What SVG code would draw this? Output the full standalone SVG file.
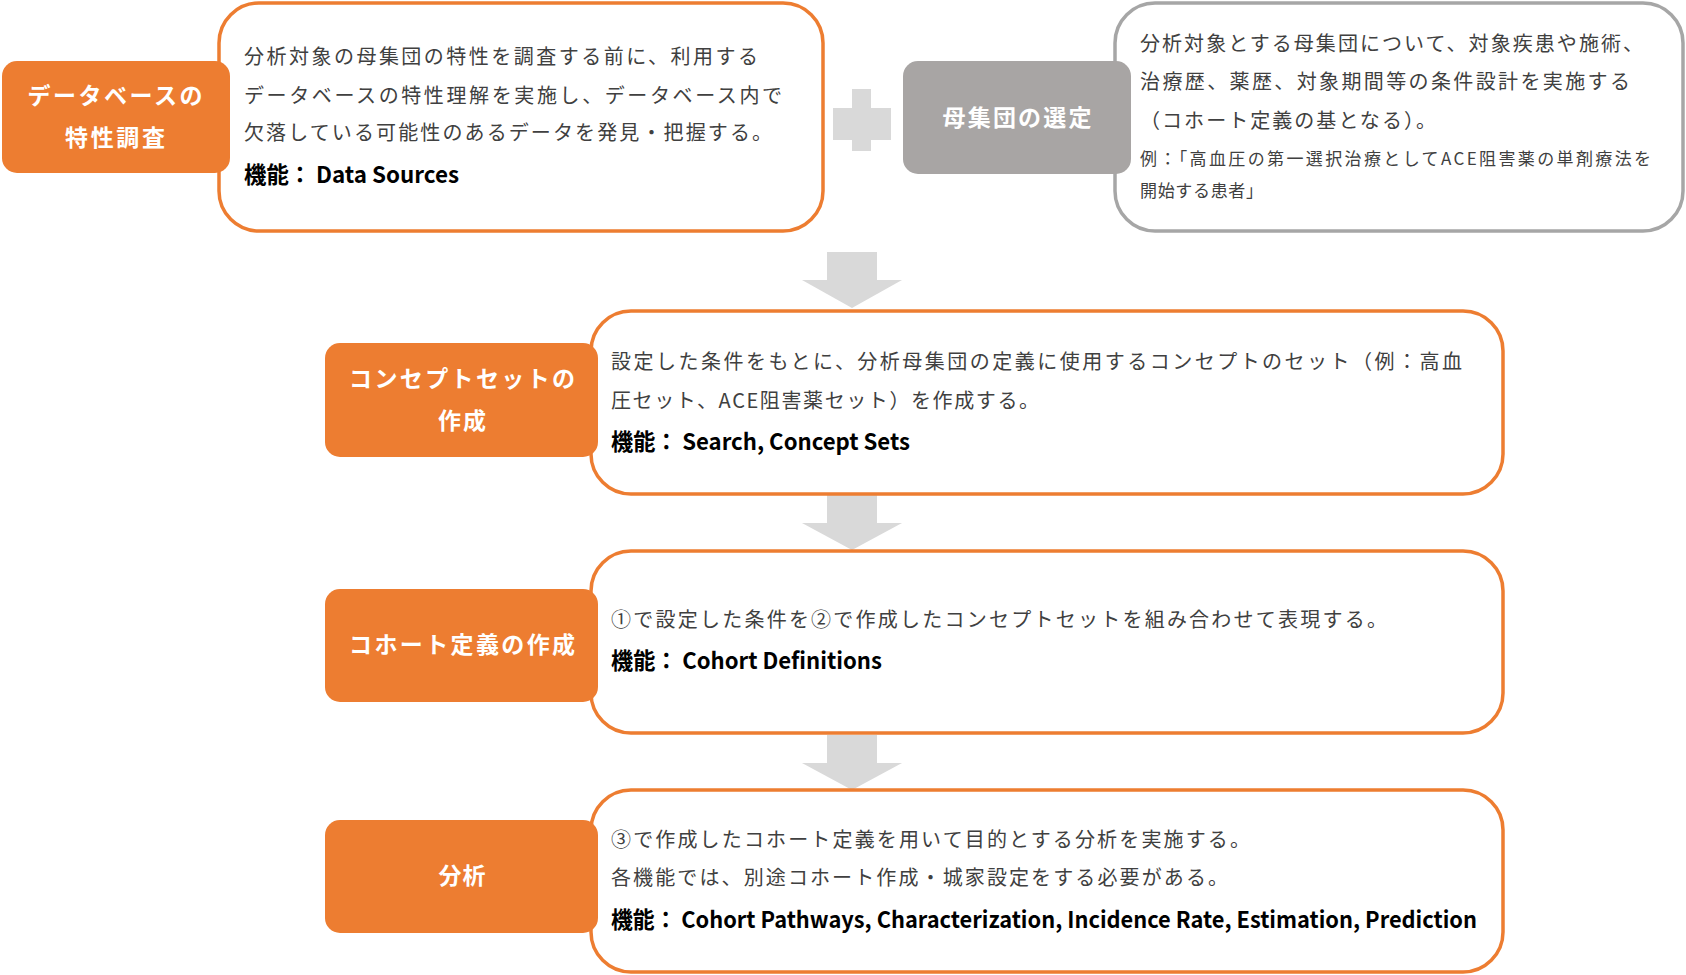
<svg xmlns="http://www.w3.org/2000/svg" width="1686" height="975" viewBox="0 0 1686 975">
<style>
.box{fill:#fff;stroke:#ED7D31;stroke-width:3.5}
.gbox{fill:#fff;stroke:#A6A6A6;stroke-width:3.5}
.lab{fill:#ED7D31}
.glab{fill:#A8A5A4}
.lt{font-family:"Noto Sans CJK JP","Noto Sans",sans-serif;font-weight:bold;font-size:23px;fill:#fff;text-anchor:middle}
.bt{font-family:"Noto Sans CJK JP","Noto Sans",sans-serif;font-size:20px;fill:#404040}
.st{font-family:"Noto Sans CJK JP","Noto Sans",sans-serif;font-size:17px;fill:#404040}
.ft{font-family:"Noto Sans CJK JP","Noto Sans",sans-serif;font-weight:bold;font-size:23px;fill:#000}
.arr{fill:#D9D9D9}
</style>
<rect width="1686" height="975" fill="#fff"/>
<g id="connectors">
<polygon class="arr" points="827,252 877,252 877,280 902,280 852,308 802,280 827,280"/>
<polygon class="arr" points="827,495 877,495 877,523 902,523 852,550 802,523 827,523"/>
<polygon class="arr" points="827,735 877,735 877,763 902,763 852,790 802,763 827,763"/>
</g>
<g id="plus">
<polygon class="arr" points="852,89 871,89 871,108 891,108 891,140 871,140 871,151 852,151 852,140 833,140 833,108 852,108"/>
</g>
<g id="node-db">
<rect class="box" x="219" y="3" width="604" height="228" rx="40"/>
<rect class="lab" x="2" y="61" width="228" height="112" rx="15"/>
<text class="lt" x="115" y="104" textLength="175" lengthAdjust="spacing">データベースの</text>
<text class="lt" x="115" y="146" textLength="100" lengthAdjust="spacing">特性調査</text>
<text class="bt" x="244" y="64" textLength="514" lengthAdjust="spacing">分析対象の母集団の特性を調査する前に、利用する</text>
<text class="bt" x="244" y="103" textLength="538" lengthAdjust="spacing">データベースの特性理解を実施し、データベース内で</text>
<text class="bt" x="244" y="140" textLength="528" lengthAdjust="spacing">欠落している可能性のあるデータを発見・把握する。</text>
<text class="ft" x="244" y="183" textLength="215" lengthAdjust="spacingAndGlyphs">機能：<tspan dx="5">Data Sources</tspan></text>
</g>
<g id="node-population">
<rect class="gbox" x="1115" y="3" width="568" height="228" rx="40"/>
<rect class="glab" x="903" y="61" width="228" height="113" rx="15"/>
<text class="lt" x="1017" y="126" textLength="149" lengthAdjust="spacing">母集団の選定</text>
<text class="bt" x="1140" y="51" textLength="503" lengthAdjust="spacing">分析対象とする母集団について、対象疾患や施術、</text>
<text class="bt" x="1140" y="89" textLength="490" lengthAdjust="spacing">治療歴、薬歴、対象期間等の条件設計を実施する</text>
<text class="bt" x="1140" y="128" textLength="296" lengthAdjust="spacing">（コホート定義の基となる）。</text>
<text class="st" x="1140" y="165" textLength="511" lengthAdjust="spacing">例：「高血圧の第一選択治療としてACE阻害薬の単剤療法を</text>
<text class="st" x="1140" y="197" textLength="123" lengthAdjust="spacing">開始する患者」</text>
</g>
<g id="node-concept">
<rect class="box" x="591" y="311" width="912" height="183" rx="40"/>
<rect class="lab" x="325" y="343" width="273" height="114" rx="15"/>
<text class="lt" x="462" y="387" textLength="226" lengthAdjust="spacing">コンセプトセットの</text>
<text class="lt" x="462" y="429" textLength="48" lengthAdjust="spacing">作成</text>
<text class="bt" x="611" y="369" textLength="851" lengthAdjust="spacing">設定した条件をもとに、分析母集団の定義に使用するコンセプトのセット（例：高血</text>
<text class="bt" x="611" y="408" textLength="428" lengthAdjust="spacing">圧セット、ACE阻害薬セット）を作成する。</text>
<text class="ft" x="611" y="450" textLength="299" lengthAdjust="spacingAndGlyphs">機能：<tspan dx="5">Search, Concept Sets</tspan></text>
</g>
<g id="node-cohort">
<rect class="box" x="591" y="551" width="912" height="182" rx="40"/>
<rect class="lab" x="325" y="589" width="273" height="113" rx="15"/>
<text class="lt" x="462" y="653" textLength="226" lengthAdjust="spacing">コホート定義の作成</text>
<text class="bt" x="611" y="627" textLength="776" lengthAdjust="spacing">①で設定した条件を②で作成したコンセプトセットを組み合わせて表現する。</text>
<text class="ft" x="611" y="669" textLength="271" lengthAdjust="spacingAndGlyphs">機能：<tspan dx="5">Cohort Definitions</tspan></text>
</g>
<g id="node-analysis">
<rect class="box" x="591" y="790" width="912" height="182" rx="40"/>
<rect class="lab" x="325" y="820" width="273" height="113" rx="15"/>
<text class="lt" x="462" y="884" textLength="47" lengthAdjust="spacing">分析</text>
<text class="bt" x="611" y="847" textLength="639" lengthAdjust="spacing">③で作成したコホート定義を用いて目的とする分析を実施する。</text>
<text class="bt" x="611" y="885" textLength="617" lengthAdjust="spacing">各機能では、別途コホート作成・城家設定をする必要がある。</text>
<text class="ft" x="611" y="928" textLength="866" lengthAdjust="spacingAndGlyphs">機能：<tspan dx="5">Cohort Pathways, Characterization, Incidence Rate, Estimation, Prediction</tspan></text>
</g>
</svg>
